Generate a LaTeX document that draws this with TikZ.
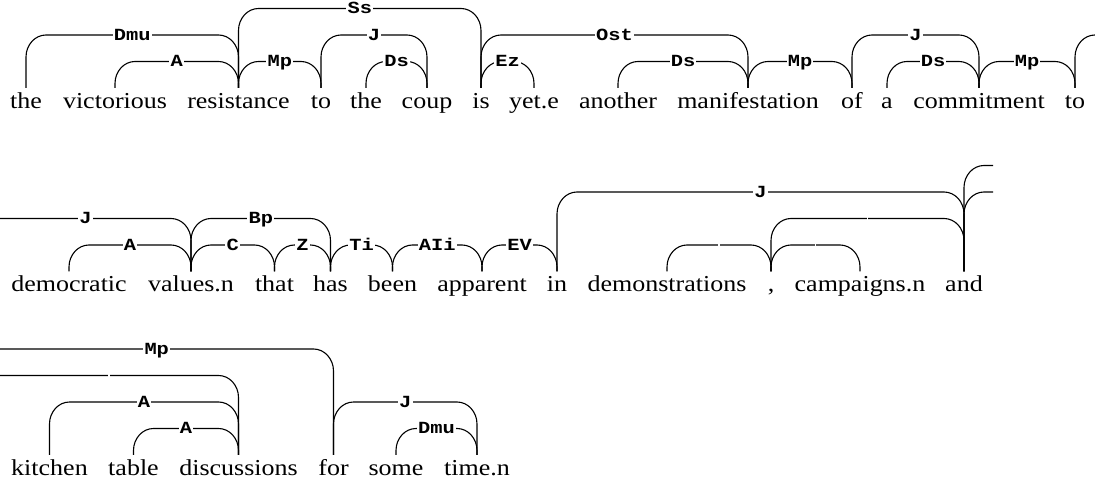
\documentclass[tikz,border=0pt]{standalone}
\usepackage{fontspec}
\usetikzlibrary{calc}
\newfontfamily\wordfont[FakeStretch=1.14]{Liberation Serif}
\newfontfamily\labfont[FakeStretch=1.2]{Liberation Mono Bold}
\tikzset{
  word/.style={font=\wordfont\fontsize{22.8}{27}\selectfont, anchor=north, inner sep=0pt, text height=20pt, text depth=6pt},
  link/.style={draw=black, line width=1.1pt},
  lab/.style={font=\labfont\fontsize{17}{19}\selectfont, fill=white, inner xsep=1.2pt, inner ysep=0.6pt, text height=10.5pt, text depth=0pt, anchor=center},
  gap/.style={fill=white, inner sep=0pt, minimum width=1.6pt, minimum height=3.5pt}
}
% link between two word nodes at a given level
\newcommand\lk[5]{%
  \draw[link] let \p1=(#1.north), \p2=(#2.north), \n1={\y1+#3*26.5} in
    (\p1) -- (\x1,\n1-22) .. controls (\x1,\n1-9.86) and (\x1+8.96,\n1) .. (\x1+20,\n1)
    -- node[#4]{#5} (\x2-20,\n1) .. controls (\x2-8.96,\n1) and (\x2,\n1-9.86) .. (\x2,\n1-22) -- (\p2);}
% link coming in from the left edge
\newcommand\lkL[4]{%
  \draw[link] let \p1=(#1), \p2=(#2.north) in
    (\p1) -- node[#3]{#4} (\x2-20,\y1) .. controls (\x2-8.96,\y1) and (\x2,\y1-9.86) .. (\x2,\y1-22) -- (\p2);}
% link going out at the right edge
\newcommand\lkR[2]{%
  \draw[link] let \p1=(#1.north), \p2=(#2) in
    (\p1) -- (\x1,\y2-22) .. controls (\x1,\y2-9.86) and (\x1+8.96,\y2) .. (\x1+20,\y2) -- (\p2);}
\begin{document}
\begin{tikzpicture}[x=1pt,y=1pt]
\useasboundingbox (0,0) rectangle (1095,487);
\clip (0,0) rectangle (1095,487);
% ---- row 1 (base y = 399)
\node[word] (w11) at (26,399) {the};
\node[word] (w12) at (115,399) {victorious};
\node[word] (w13) at (238.5,399) {resistance};
\node[word] (w14) at (321,399) {to};
\node[word] (w15) at (366,399) {the};
\node[word] (w16) at (427,399) {coup};
\node[word] (w17) at (481,399) {is};
\node[word] (w18) at (534,399) {yet.e};
\node[word] (w19) at (618,399) {another};
\node[word] (w110) at (748,399) {manifestation};
\node[word] (w111) at (852,399) {of};
\node[word] (w112) at (887,399) {a};
\node[word] (w113) at (979,399) {commitment};
\node[word] (w114) at (1075,399) {to};
\coordinate (R1) at (1100,452);
\lk{w11}{w13}{2}{lab}{Dmu}
\lk{w12}{w13}{1}{lab}{A}
\lk{w13}{w17}{3}{lab}{Ss}
\lk{w13}{w14}{1}{lab}{Mp}
\lk{w14}{w16}{2}{lab}{J}
\lk{w15}{w16}{1}{lab}{Ds}
\lk{w17}{w18}{1}{lab}{Ez}
\lk{w17}{w110}{2}{lab}{Ost}
\lk{w19}{w110}{1}{lab}{Ds}
\lk{w110}{w111}{1}{lab}{Mp}
\lk{w111}{w113}{2}{lab}{J}
\lk{w112}{w113}{1}{lab}{Ds}
\lk{w113}{w114}{1}{lab}{Mp}
\lkR{w114}{R1}
% ---- row 2 (base y = 215.5)
\node[word] (w21) at (69,215.5) {democratic};
\node[word] (w22) at (191,215.5) {values.n};
\node[word] (w23) at (274.5,215.5) {that};
\node[word] (w24) at (330.5,215.5) {has};
\node[word] (w25) at (392.5,215.5) {been};
\node[word] (w26) at (482,215.5) {apparent};
\node[word] (w27) at (557,215.5) {in};
\node[word] (w28) at (667,215.5) {demonstrations};
\node[word] (w29) at (771,215.5) {,};
\node[word] (w210) at (860,215.5) {campaigns.n};
\node[word] (w211) at (964,215.5) {and};
\coordinate (L2a) at (0,268.5);
\coordinate (R2a) at (993,321.5);
\coordinate (R2b) at (993,295);
\lkL{L2a}{w22}{lab}{J}
\lk{w21}{w22}{1}{lab}{A}
\lk{w22}{w24}{2}{lab}{Bp}
\lk{w22}{w23}{1}{lab}{C}
\lk{w23}{w24}{1}{lab}{Z}
\lk{w24}{w25}{1}{lab}{Ti}
\lk{w25}{w26}{1}{lab}{AIi}
\lk{w26}{w27}{1}{lab}{EV}
\lk{w27}{w211}{3}{lab}{J}
\lk{w28}{w29}{1}{gap}{}
\lk{w29}{w210}{1}{gap}{}
\lk{w29}{w211}{2}{gap}{}
\lkR{w211}{R2a}
\lkR{w211}{R2b}
% ---- row 3 (base y = 32)
\node[word] (w31) at (49.5,32) {kitchen};
\node[word] (w32) at (133.5,32) {table};
\node[word] (w33) at (238.5,32) {discussions};
\node[word] (w34) at (333.5,32) {for};
\node[word] (w35) at (396,32) {some};
\node[word] (w36) at (477,32) {time.n};
\coordinate (L3a) at (0,138);
\coordinate (L3b) at (0,111.5);
\lkL{L3a}{w34}{lab}{Mp}
\lkL{L3b}{w33}{gap}{}
\lk{w31}{w33}{2}{lab}{A}
\lk{w32}{w33}{1}{lab}{A}
\lk{w34}{w36}{2}{lab}{J}
\lk{w35}{w36}{1}{lab}{Dmu}
\end{tikzpicture}
\end{document}
